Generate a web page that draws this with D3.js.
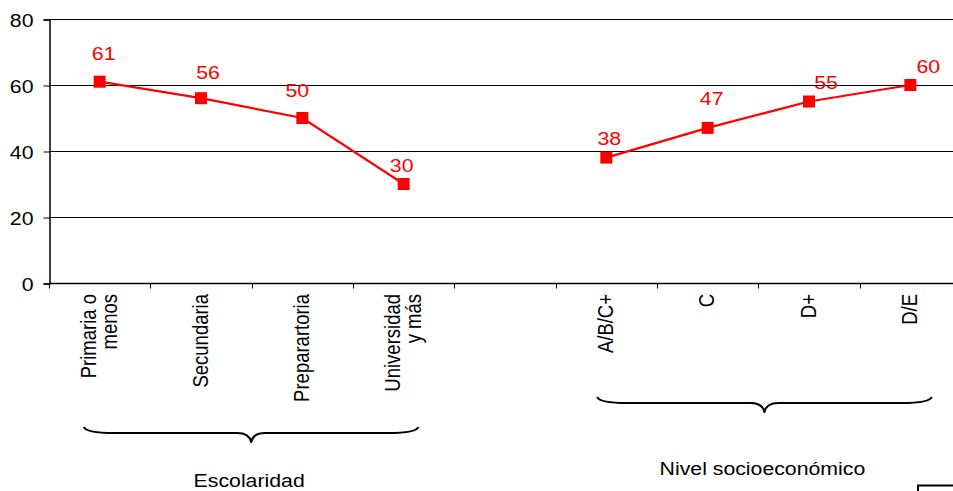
<!DOCTYPE html>
<html><head><meta charset="utf-8">
<script src="https://cdn.jsdelivr.net/npm/d3@7"></script>
<style>
html,body{margin:0;padding:0;background:#fff;overflow:hidden}
text{font-family:"Liberation Sans",Arial,sans-serif}
</style></head>
<body>
<svg id="chart" width="953" height="491"></svg>
<script>
// ---- data ----
const categories = ["Primaria o\nmenos", "Secundaria", "Preparartoria", "Universidad\ny más", "", "A/B/C+", "C", "D+", "D/E"];
const values = [61, 56, 50, 30, null, 38, 47, 55, 60];
const yTicks = [0, 20, 40, 60, 80];
const groupNames = ["Escolaridad", "Nivel socioeconómico"];
const groupStart = [0, 5];
const groupEnd = [3, 8];

// ---- layout / style (not data) ----
const labelDx = [4, 7, -5, -2, 3, 4, 17, 18];
const labelDy = [-28, -26, -28, -19, -19, -29, -19, -19];
const braceInset = [[0.345, 0.355], [0.41, 0.29]];
const braceTop = [427, 397];
const groupLabelY = [487, 475];
const STRETCH = 1.15;
const FS = 18.5;
const RED = "#ff0000";

const svg = d3.select("#chart");
const x = d3.scaleBand().domain(d3.range(categories.length)).range([49, 961]).padding(0);
const y = d3.scaleLinear().domain([0, 80]).range([283, 19]);
const bw = x.bandwidth();
const cx = i => x(i) + bw / 2;

// gridlines
svg.append("g").selectAll("line").data(yTicks.filter(t => t > 0)).join("line")
  .attr("x1", 49).attr("x2", 962)
  .attr("y1", d => Math.round(y(d)) + 0.5).attr("y2", d => Math.round(y(d)) + 0.5)
  .attr("stroke", "#000").attr("stroke-width", 1);

// y axis
const yAxis = svg.append("g").attr("transform", "translate(49.5,0.5)")
  .call(d3.axisLeft(y).tickValues(yTicks).tickSize(6).tickPadding(0).tickFormat(d3.format("d")));
yAxis.select(".domain").attr("stroke", "#000").attr("stroke-width", 1.5);
yAxis.selectAll(".tick line").attr("stroke", "#000").attr("stroke-width", 1);
yAxis.selectAll(".tick text").remove();
yAxis.selectAll(".tick").append("text")
  .attr("transform", `translate(-16,6.5) scale(${STRETCH},1)`)
  .attr("text-anchor", "end").attr("fill", "#000").style("font-size", FS + "px")
  .text(d => d);

// x axis line
const y0 = Math.round(y(0)) + 0.5;
svg.append("line").attr("x1", 49).attr("x2", 962).attr("y1", y0).attr("y2", y0)
  .attr("stroke", "#000").attr("stroke-width", 1.5);
// x ticks at band boundaries
svg.append("g").selectAll("line").data(d3.range(categories.length)).join("line")
  .attr("x1", i => Math.round(x(i)) + 0.5).attr("x2", i => Math.round(x(i)) + 0.5)
  .attr("y1", y0).attr("y2", y0 + 5).attr("stroke", "#000").attr("stroke-width", 1);

// x labels (rotated)
const xl = svg.append("g");
categories.forEach((c, i) => {
  if (!c) return;
  const lines = c.split("\n");
  lines.forEach((ln, j) => {
    const off = (j - (lines.length - 1) / 2) * 21;
    xl.append("text")
      .attr("transform", `translate(${cx(i) + off + 6.5},294) scale(${STRETCH},1) rotate(-90)`)
      .attr("text-anchor", "end").attr("fill", "#000").style("font-size", FS + "px")
      .text(ln);
  });
});

// line
const pts = values.map((v, i) => ({v, i}));
svg.append("path").datum(pts)
  .attr("d", d3.line().defined(d => d.v != null).x(d => cx(d.i)).y(d => y(d.v)))
  .attr("fill", "none").attr("stroke", RED).attr("stroke-width", 2.2);

// markers
const valid = pts.filter(d => d.v != null);
svg.append("g").selectAll("rect").data(valid).join("rect")
  .attr("x", d => cx(d.i) - 6).attr("y", d => y(d.v) - 6)
  .attr("width", 12).attr("height", 12).attr("fill", RED);

// data labels
svg.append("g").selectAll("text").data(valid).join("text")
  .attr("transform", (d, k) => `translate(${cx(d.i) + labelDx[k]},${y(d.v) + labelDy[k] + 6.5}) scale(${STRETCH},1)`)
  .attr("text-anchor", "middle").attr("fill", RED).style("font-size", FS + "px")
  .text(d => d.v);

// braces + group labels
groupNames.forEach((g, k) => {
  const L = x(groupStart[k]) + bw * braceInset[k][0];
  const R = x(groupEnd[k]) + bw - bw * braceInset[k][1];
  const T = (L + R) / 2;
  const t = braceTop[k];
  const p = d3.path();
  p.moveTo(L, t);
  p.quadraticCurveTo(L + 2, t + 6, L + 30, t + 6);
  p.lineTo(T - 14, t + 6);
  p.quadraticCurveTo(T - 2, t + 6, T, t + 15);
  p.quadraticCurveTo(T + 2, t + 6, T + 14, t + 6);
  p.lineTo(R - 30, t + 6);
  p.quadraticCurveTo(R - 2, t + 6, R, t);
  svg.append("path").attr("d", p.toString()).attr("fill", "none")
    .attr("stroke", "#000").attr("stroke-width", 2.2).attr("stroke-linejoin", "round");
  svg.append("text")
    .attr("transform", `translate(${T - 2},${groupLabelY[k]}) scale(${STRETCH},1)`)
    .attr("text-anchor", "middle").attr("fill", "#000").style("font-size", FS + "px")
    .text(g);
});

// partial box at bottom right
svg.append("rect").attr("x", 918).attr("y", 485.5).attr("width", 80).attr("height", 40)
  .attr("fill", "none").attr("stroke", "#000").attr("stroke-width", 2);
</script>
</body></html>
